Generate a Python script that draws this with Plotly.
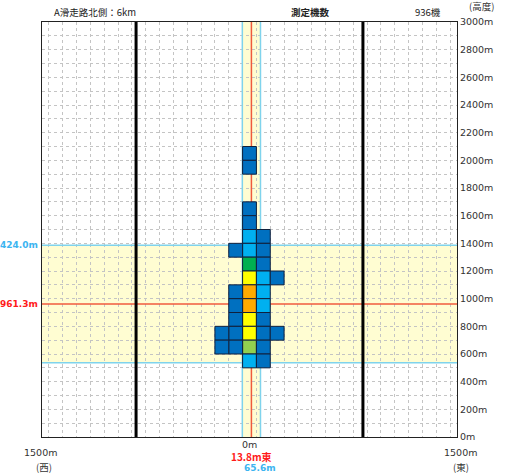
import plotly.graph_objects as go

# ---- data ----
cell_x = [0, 0, 0, 0, 0, 0, 0, 0, 0, 0, 0, 0, 0, 0,
          100, 100, 100, 100, 100, 100, 100, 100, 100, 100,
          -100, -100, -100, -100, -100, -100,
          200, 200,
          -200, -200]
cell_alt = [2000, 1900, 1600, 1500, 1400, 1300, 1200, 1100, 1000, 900, 800, 700, 600, 500,
            1400, 1300, 1200, 1100, 1000, 900, 800, 700, 600, 500,
            1300, 1000, 900, 800, 700, 600,
            1100, 700,
            700, 600]
cell_level = [1, 1, 1, 1, 2, 2, 3, 5, 6, 6, 5, 5, 4, 2,
              1, 1, 1, 2, 2, 2, 1, 1, 1, 1,
              1, 1, 1, 1, 1, 1,
              1, 1,
              1, 1]
level_colors = {1: "#0070C0", 2: "#00B0F0", 3: "#00B050", 4: "#92D050", 5: "#FFFF00", 6: "#FFAA00"}

cell_size = 100
center_x = 13.8
half_width = 65.6
center_alt = 961.3
half_height = 424.0
runway_marks = [-820, 820]
x_range = [-1500, 1500]
y_range = [0, 3000]
title_left = "A滑走路北側：6km"
count_label = "測定機数"
count_value = "936機"

fig = go.Figure()
fig.add_trace(go.Bar(
    x=cell_x,
    y=[cell_size] * len(cell_x),
    base=[a for a in cell_alt],
    width=cell_size,
    marker=dict(color=[level_colors[l] for l in cell_level],
                line=dict(color="#10203c", width=1)),
    hoverinfo="skip",
    showlegend=False,
))

RED = "#F05A3C"
CYAN = "#7FD3EC"
BAND = "#FFFDD2"

# horizontal band and lines
fig.add_shape(type="rect", xref="x", yref="y", x0=x_range[0], x1=x_range[1],
              y0=center_alt - half_height, y1=center_alt + half_height,
              fillcolor=BAND, line_width=0, layer="below")
fig.add_shape(type="rect", xref="x", yref="y", x0=center_x - half_width, x1=center_x + half_width,
              y0=y_range[0], y1=y_range[1],
              fillcolor=BAND, line_width=0, layer="below")
for yv, col in [(center_alt - half_height, CYAN), (center_alt + half_height, CYAN), (center_alt, RED)]:
    fig.add_shape(type="line", xref="x", yref="y", x0=x_range[0], x1=x_range[1], y0=yv, y1=yv,
                  line=dict(color=col, width=1.5), layer="between")
for xv, col in [(center_x - half_width, CYAN), (center_x + half_width, CYAN), (center_x, RED)]:
    fig.add_shape(type="line", xref="x", yref="y", x0=xv, x1=xv, y0=y_range[0], y1=y_range[1],
                  line=dict(color=col, width=1.5), layer="between")
for xv in runway_marks:
    fig.add_shape(type="line", xref="x", yref="y", x0=xv, x1=xv, y0=y_range[0], y1=y_range[1],
                  line=dict(color="black", width=3), layer="between")

FONT = "DejaVu Sans, Verdana, sans-serif"
JP = "Noto Sans CJK JP, sans-serif"

ann = []
# left labels
ann.append(dict(x=0, xref="paper", xanchor="right", xshift=-2, y=center_alt + half_height, yref="y",
                text=f"<b>{half_height:.1f}m</b>", showarrow=False,
                font=dict(family=FONT, size=9, color="#3CB4F0")))
ann.append(dict(x=0, xref="paper", xanchor="right", xshift=-2, y=center_alt, yref="y",
                text=f"<b>{center_alt:.1f}m</b>", showarrow=False,
                font=dict(family=FONT, size=9, color="#FF1A1A")))
# bottom labels
ann.append(dict(x=0, xref="x", y=-0.017, yref="paper", yanchor="middle", text="0m", showarrow=False,
                font=dict(family=FONT, size=9.5, color="#333")))
ann.append(dict(x=center_x, xref="x", y=-0.046, yref="paper", yanchor="middle",
                text=f"<b>{center_x:.1f}m東</b>", showarrow=False,
                font=dict(family=JP, size=10, color="#FF1A1A")))
ann.append(dict(x=center_x + half_width - 5, xref="x", y=-0.075, yref="paper", yanchor="middle",
                text=f"<b>{half_width:.1f}m</b>", showarrow=False,
                font=dict(family=FONT, size=9, color="#3CB4F0")))
ann.append(dict(x=-1500, xref="x", xshift=-2, y=-0.038, yref="paper", yanchor="middle", text="1500m",
                showarrow=False, font=dict(family=FONT, size=9.5, color="#333")))
ann.append(dict(x=-1500, xref="x", xshift=2, y=-0.073, yref="paper", yanchor="middle", text="(西)",
                showarrow=False, font=dict(family=JP, size=9.5, color="#333")))
ann.append(dict(x=1500, xref="x", xshift=3, y=-0.038, yref="paper", yanchor="middle", text="1500m",
                showarrow=False, font=dict(family=FONT, size=9.5, color="#333")))
ann.append(dict(x=1500, xref="x", xshift=4, y=-0.073, yref="paper", yanchor="middle", text="(東)",
                showarrow=False, font=dict(family=JP, size=9.5, color="#333")))
# top labels
ann.append(dict(x=0.024, xref="paper", xanchor="left", y=1.0, yref="paper", yanchor="bottom", yshift=1,
                text=title_left, showarrow=False, font=dict(family=JP, size=9.5, color="#222")))
ann.append(dict(x=0.647, xref="paper", xanchor="center", y=1.0, yref="paper", yanchor="bottom",
                yshift=1, text=f"<b>{count_label}</b>", showarrow=False,
                font=dict(family=JP, size=9.5, color="#222")))
ann.append(dict(x=0.93, xref="paper", xanchor="center", y=1.0, yref="paper", yanchor="bottom", yshift=1,
                text=count_value, showarrow=False, font=dict(family=JP, size=9.5, color="#222")))
ann.append(dict(x=1.0, xref="paper", xanchor="left", xshift=10, y=1.0, yref="paper", yanchor="bottom",
                yshift=7, text="(高度)", showarrow=False, font=dict(family=JP, size=9.5, color="#333")))

fig.update_layout(
    width=506, height=473,
    margin=dict(l=42, r=49, t=22, b=36),
    paper_bgcolor="white", plot_bgcolor="white",
    barmode="overlay",
    showlegend=False,
    annotations=ann,
    xaxis=dict(range=x_range, tick0=50, dtick=100, showticklabels=False, ticks="",
               showgrid=True, gridcolor="#C4C4C4", griddash="dot", gridwidth=1,
               zeroline=False, showline=True, linecolor="#222", linewidth=1, mirror=True),
    yaxis=dict(range=y_range, side="right", tick0=0, dtick=200, ticksuffix="m", ticks="",
               showgrid=True, gridcolor="#C4C4C4", griddash="dot", gridwidth=1,
               minor=dict(dtick=100, showgrid=True, gridcolor="#C4C4C4", griddash="dot", gridwidth=1),
               tickfont=dict(family=FONT, size=9.5, color="#333"),
               zeroline=False, showline=True, linecolor="#222", linewidth=1, mirror=True),
)

fig.write_html("out.html", config={"displayModeBar": False},
               post_script="document.body.style.margin='0';document.body.style.overflow='hidden';")
